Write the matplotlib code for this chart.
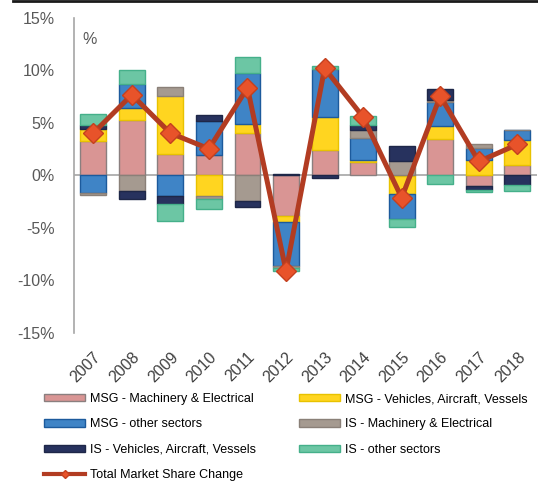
import matplotlib
matplotlib.use("Agg")
import matplotlib.pyplot as plt
import matplotlib.transforms as mtransforms
import numpy as np
from matplotlib.lines import Line2D
from matplotlib.patches import Patch
from matplotlib.ticker import FuncFormatter

plt.rcParams['font.family'] = ['Liberation Sans', 'DejaVu Sans']

years = ['2007', '2008', '2009', '2010', '2011', '2012', '2013', '2014', '2015', '2016', '2017', '2018']

# contributions to market share change, in %
msg_me = [3.27, 5.30, 2.03, 1.90, 4.03, -3.90, 2.41, 1.30, -0.05, 3.43, -1.05, 1.02]
msg_veh = [1.14, 1.11, 5.52, -1.97, 0.89, -0.54, 3.14, 0.19, -1.70, 1.24, 1.49, 2.38]
msg_oth = [-1.68, 2.32, -1.94, 3.27, 4.83, -4.22, 4.60, 2.06, -2.40, 2.32, 1.14, 0.95]
is_me = [-0.16, -1.52, 0.86, -0.25, -2.44, -0.16, 0.0, 0.73, 1.33, 0.22, 0.32, 0.0]
is_veh = [0.44, -0.73, -0.76, 0.60, -0.57, 0.10, -0.22, 0.48, 1.43, 1.05, -0.38, -0.89]
is_oth = [1.00, 1.33, -1.68, -1.02, 1.52, -0.29, 0.25, 0.86, -0.80, -0.79, -0.19, -0.60]
total = [4.03, 7.68, 4.03, 2.54, 8.35, -9.1, 10.2, 5.56, -2.13, 7.56, 1.33, 2.95]

series = [
    ('MSG - Machinery & Electrical', msg_me, '#D99594', '#8a7f7f'),
    ('MSG - Vehicles, Aircraft, Vessels', msg_veh, '#FFD520', '#E8C200'),
    ('MSG - other sectors', msg_oth, '#3F84C6', '#1C5A9C'),
    ('IS - Machinery & Electrical', is_me, '#A59A90', '#8a8078'),
    ('IS - Vehicles, Aircraft, Vessels', is_veh, '#27325E', '#1e2748'),
    ('IS - other sectors', is_oth, '#6CC6A4', '#45B08A'),
]

fig = plt.figure(figsize=(5.38, 4.84), dpi=100)
ax = fig.add_axes([0.1375, 0.312, 0.86, 0.651])

x = np.arange(len(years))
pos_bottom = np.zeros(len(years))
neg_bottom = np.zeros(len(years))
handles = {}
for name, vals, fc, ec in series:
    v = np.array(vals)
    bottom = np.where(v >= 0, pos_bottom, neg_bottom)
    ax.bar(x, v, 0.67, bottom=bottom, color=fc, edgecolor=ec, linewidth=1, zorder=2)
    pos_bottom += np.where(v >= 0, v, 0)
    neg_bottom += np.where(v < 0, v, 0)
    handles[name] = Patch(facecolor=fc, edgecolor=ec, linewidth=1)

ax.plot(x, total, color='#B23C22', linewidth=3.6, marker='D', markersize=10,
        markerfacecolor='#E8532A', markeredgecolor='#C4401F', zorder=4)

ax.axhline(0, color='#a6a6a6', linewidth=1.2, zorder=1)
ax.set_ylim(-15, 15)
ax.set_xlim(-0.5, 11.5)
ax.set_yticks(range(-15, 16, 5))
ax.yaxis.set_major_formatter(FuncFormatter(lambda v, p: f"{v:.0f}%"))
ax.set_xticks(x)
ax.set_xticklabels(years, rotation=45, ha='right', rotation_mode='anchor')
shift = mtransforms.ScaledTranslation(-5 / 100, 0, fig.dpi_scale_trans)
for lbl in ax.get_xticklabels():
    lbl.set_transform(lbl.get_transform() + shift)
for s in ['top', 'right', 'bottom']:
    ax.spines[s].set_visible(False)
ax.spines['left'].set_color('#a6a6a6')
ax.spines['left'].set_linewidth(1.2)
ax.tick_params(axis='y', length=0, pad=14, labelsize=11.5, labelcolor='#595959')
ax.tick_params(axis='x', length=0, pad=12, labelsize=11.5, labelcolor='#404040')
ax.text(0.018, 0.955, '%', transform=ax.transAxes, fontsize=11.5, color='#595959', va='top')

# thin rule across the top of the figure
fig.add_artist(Line2D([0.024, 1], [0.998, 0.998], color='#1a1a1a', linewidth=2))

total_handle = Line2D([], [], color='#B23C22', linewidth=3, marker='D', markersize=4,
                      markerfacecolor='#E8532A', markeredgecolor='#C4401F')
order = [
    ('MSG - Machinery & Electrical', handles['MSG - Machinery & Electrical']),
    ('MSG - other sectors', handles['MSG - other sectors']),
    ('IS - Vehicles, Aircraft, Vessels', handles['IS - Vehicles, Aircraft, Vessels']),
    ('Total Market Share Change', total_handle),
    ('MSG - Vehicles, Aircraft, Vessels', handles['MSG - Vehicles, Aircraft, Vessels']),
    ('IS - Machinery & Electrical', handles['IS - Machinery & Electrical']),
    ('IS - other sectors', handles['IS - other sectors']),
]
fig.legend([h for _, h in order], [n for n, _ in order], ncol=2, loc='upper left',
           bbox_to_anchor=(0.082, 0.188), frameon=False, fontsize=9,
           handlelength=3.3, handleheight=0.5, handletextpad=0.4,
           labelspacing=1.07, columnspacing=3.4, borderaxespad=0, borderpad=0)

fig.savefig('out.png', dpi=100)
